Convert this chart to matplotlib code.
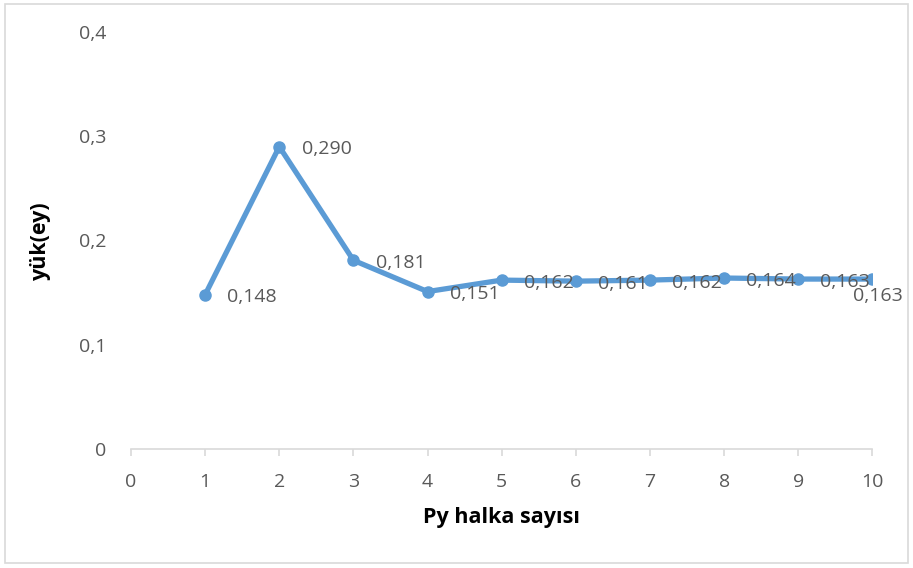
import matplotlib
matplotlib.use("Agg")
import matplotlib.pyplot as plt
from matplotlib.patches import Rectangle
from matplotlib.ticker import FuncFormatter

# data
halka = [1, 2, 3, 4, 5, 6, 7, 8, 9, 10]
yuk = [0.148, 0.290, 0.181, 0.151, 0.162, 0.161, 0.162, 0.164, 0.163, 0.163]
etiket = ["0,148", "0,290", "0,181", "0,151", "0,162", "0,161", "0,162", "0,164", "0,163", "0,163"]
x_ticks = [0, 1, 2, 3, 4, 5, 6, 7, 8, 9, 10]
y_ticks = [0, 0.1, 0.2, 0.3, 0.4]

plt.rcParams["font.family"] = ["Open Sans", "DejaVu Sans"]
GRAY = "#595959"
BLUE = "#5B9BD5"
FS = 14

fig = plt.figure(figsize=(9.13, 5.68), dpi=100)
ax = fig.add_axes([0.1435, 0.2095, 0.8120, 0.7342])

# outer chart frame
fig.patches.append(Rectangle((0.006, 0.008), 0.988, 0.985, transform=fig.transFigure,
                             fill=False, edgecolor="#D9D9D9", linewidth=1.2))

ax.plot(halka, yuk, "-o", color=BLUE, lw=3.8, ms=8, solid_capstyle="round")

for i, (x, y, t) in enumerate(zip(halka, yuk, etiket)):
    if i == len(halka) - 1:
        ax.annotate(t, (x, y), xytext=(-14, -12), textcoords="offset points",
                    ha="left", va="center", fontsize=FS, color=GRAY)
    else:
        ax.annotate(t, (x, y), xytext=(16, -2), textcoords="offset points",
                    ha="left", va="center", fontsize=FS, color=GRAY)

ax.set_xlim(0, 10)
ax.set_ylim(0, 0.4)
ax.set_xticks(x_ticks)
ax.set_yticks(y_ticks)
ax.yaxis.set_major_formatter(FuncFormatter(lambda v, p: "0" if v == 0 else f"{v:.1f}".replace(".", ",")))

for s in ["top", "right", "left"]:
    ax.spines[s].set_visible(False)
ax.spines["bottom"].set_color("#D9D9D9")
ax.spines["bottom"].set_linewidth(1.2)
ax.tick_params(axis="x", direction="out", length=5, width=1.2, color="#D9D9D9",
               labelcolor=GRAY, labelsize=FS, pad=12)
ax.tick_params(axis="y", length=0, labelcolor=GRAY, labelsize=FS, pad=18)

ax.set_xlabel("Py halka sayısı", fontsize=15.5, fontweight="bold", color="black", labelpad=12)
ax.set_ylabel("yük(ey)", fontsize=15.5, fontweight="bold", color="black", labelpad=20)

fig.savefig("out.png", dpi=100)
